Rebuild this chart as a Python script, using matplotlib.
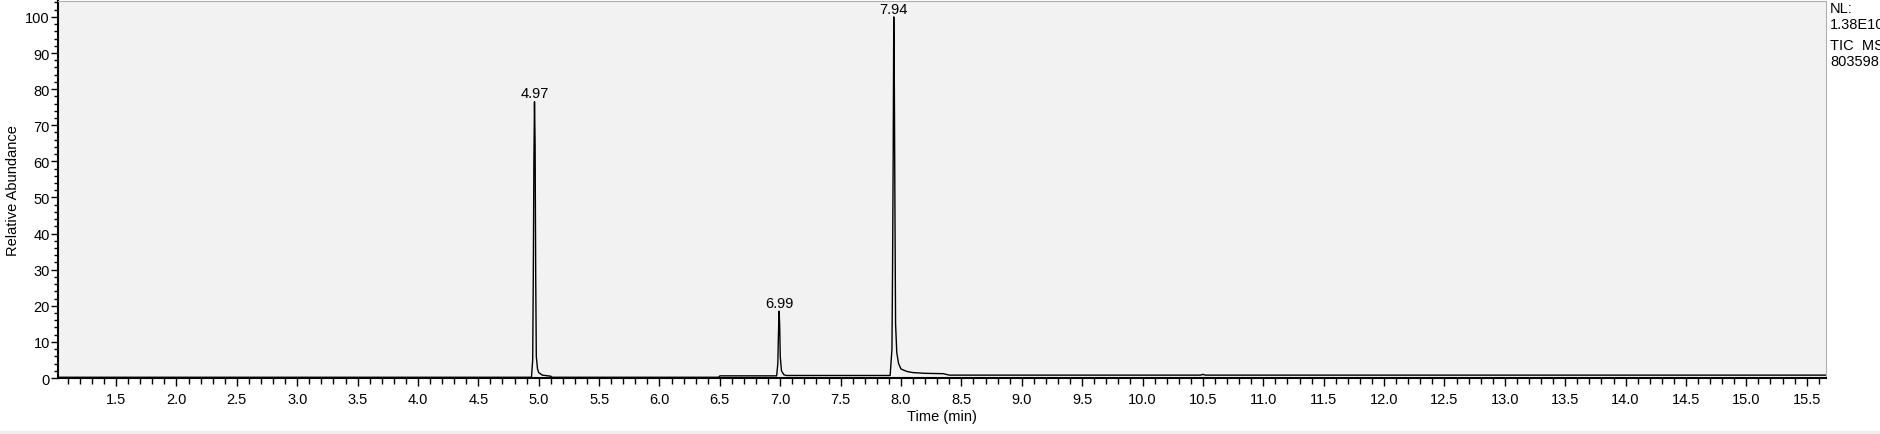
import matplotlib
matplotlib.use('Agg')
import matplotlib.pyplot as plt
from matplotlib.ticker import MultipleLocator

# retention time (min) and relative abundance
time_min = [1.02, 4.94, 4.950, 4.955, 4.960, 4.965, 4.970, 4.975, 4.980, 4.99, 5.00, 5.03, 5.10, 5.11,
            6.49, 6.50, 6.97, 6.980, 6.985, 6.990, 6.995, 7.000, 7.01, 7.03, 7.05,
            7.91, 7.925, 7.930, 7.935, 7.940, 7.945, 7.950, 7.955, 7.965, 7.98, 8.00, 8.05, 8.10, 8.20, 8.35, 8.40,
            10.48, 10.50, 10.52, 15.66]
abundance = [0.2, 0.2, 5.0, 28.0, 60.0, 76.5, 65.0, 28.0, 6.0, 2.5, 1.5, 0.8, 0.5, 0.2,
             0.2, 0.6, 0.6, 4.0, 12.0, 18.5, 15.0, 6.0, 2.0, 0.9, 0.7,
             0.7, 8.0, 30.0, 60.0, 100.0, 80.0, 45.0, 15.0, 7.0, 4.0, 2.5, 1.8, 1.5, 1.3, 1.2, 0.8,
             0.8, 1.0, 0.8, 0.8]
peak_times = [4.97, 6.99, 7.94]
peak_heights = [76.5, 18.5, 100.0]

fig = plt.figure(figsize=(18.8, 4.35), dpi=100)
fig.patches.append(plt.Rectangle((0, 0), 1, 0.008, transform=fig.transFigure, color='#efefef'))
ax = fig.add_axes([0.0309, 0.1287, 0.9404, 0.8667])
ax.set_facecolor('#f2f2f2')

ax.plot(time_min, abundance, color='black', lw=1.0)
for t, h in zip(peak_times, peak_heights):
    ax.annotate(f'{t:.2f}', (t, h), xytext=(0, 1), textcoords='offset points',
                ha='center', va='bottom', fontsize=10.5, family='Liberation Sans')

ax.set_xlim(1.02, 15.66)
ax.set_ylim(0, 104.4)
ax.xaxis.set_major_locator(MultipleLocator(0.5))
ax.xaxis.set_minor_locator(MultipleLocator(0.1))
ax.yaxis.set_major_locator(MultipleLocator(10))
ax.yaxis.set_minor_locator(MultipleLocator(2))
ax.set_xticks([x / 2 for x in range(3, 32)])
ax.tick_params(axis='x', which='major', length=6, width=1, labelsize=10.5, pad=4)
ax.tick_params(axis='x', which='minor', length=4, width=1)
ax.tick_params(axis='y', which='major', length=5, width=1, labelsize=10.5, pad=1)
ax.tick_params(axis='y', which='minor', length=3, width=1)
for lab in ax.get_xticklabels() + ax.get_yticklabels():
    lab.set_family('Liberation Sans')

for s in ['top', 'right']:
    ax.spines[s].set_color('#b0b0b0')
ax.spines['bottom'].set_linewidth(1.5)
ax.spines['left'].set_linewidth(1.5)

ax.set_xlabel('Time (min)', fontsize=10.5, family='Liberation Sans', labelpad=2)
ax.set_ylabel('Relative Abundance', fontsize=10.5, family='Liberation Sans', labelpad=4)

fig.text(0.9735, 0.995, 'NL:\n1.38E10', ha='left', va='top', fontsize=10.5,
         family='Liberation Sans', linespacing=1.15)
fig.text(0.9735, 0.91, 'TIC  MS\n803598', ha='left', va='top', fontsize=10.5,
         family='Liberation Sans', linespacing=1.15)

fig.savefig('out.png', dpi=100)
